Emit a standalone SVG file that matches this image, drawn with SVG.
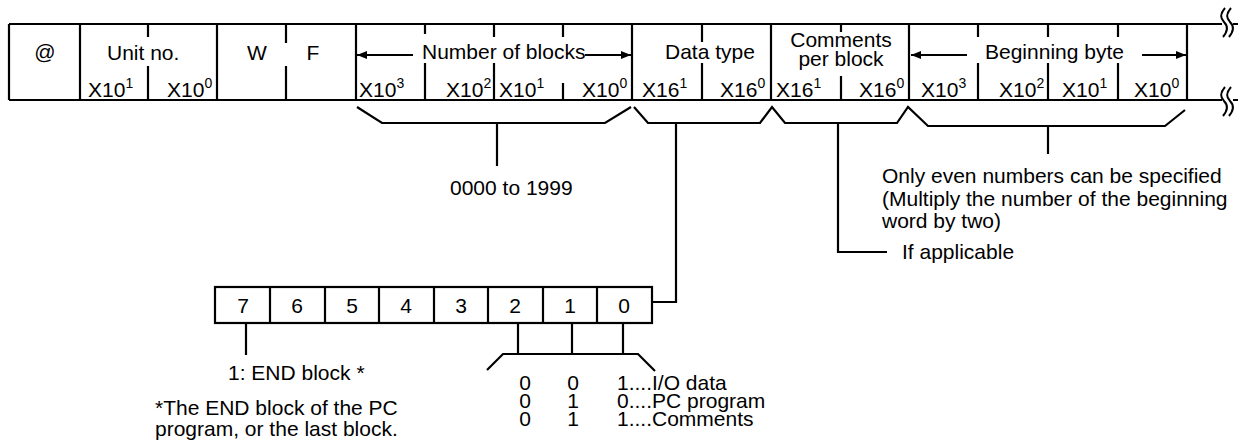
<svg xmlns="http://www.w3.org/2000/svg" width="1238" height="447" viewBox="0 0 1238 447">
<defs>
<style>
.ln{stroke:#000;stroke-width:2.2;fill:none}
.tn{stroke:#000;stroke-width:2;fill:none}
.tx{font-family:"Liberation Sans",Arial,sans-serif;font-size:21px;fill:#000}
.c{text-anchor:middle}
.sup{font-size:14px}
</style>
<marker id="ah" viewBox="0 0 10 8" refX="10" refY="4" markerWidth="10" markerHeight="8" markerUnits="userSpaceOnUse" orient="auto">
<path d="M0,0 L10,4 L0,8 Z" fill="#000"/>
</marker>
</defs>
<rect width="1238" height="447" fill="#fff"/>

<g id="frame-table">
<path class="ln" d="M9,24 H1222 M1233,24 H1238 M9,100 H1222 M1233,100 H1238"/>
<path class="ln" d="M9,24 V100 M80,24 V100 M217,24 V100 M356,24 V100 M632,24 V100 M771,24 V100 M909,24 V100 M1187,24 V100"/>
<path class="ln" d="M148,24 V37 M148,66 V100 M286,24 V43 M286,66 V100 M425,24 V34 M425,63 V100 M494,24 V37 M494,63 V100 M563,24 V37 M563,83 V100 M702,24 V42 M702,63 V100 M841,24 V32 M841,76 V100 M978,24 V37 M978,63 V100 M1048,24 V37 M1048,63 V100 M1118,24 V37 M1118,63 V100"/>
<path class="tn" d="M1225,8 C1220,14 1220,18 1224,22 C1228,26 1228,31 1223,37 M1231,8 C1226,14 1226,18 1230,22 C1234,26 1234,31 1229,37"/>
<path class="tn" d="M1225,87 C1220,93 1220,97 1224,101 C1228,105 1228,110 1223,116 M1231,87 C1226,93 1226,97 1230,101 C1234,105 1234,110 1229,116"/>
</g>

<g id="cell-at"><text class="tx c" x="45" y="59">@</text></g>
<g id="cell-unit-no">
<text class="tx" x="107" y="60">Unit no.</text>
<text class="tx" x="88" y="97">X10<tspan class="sup" dy="-9">1</tspan></text>
<text class="tx" x="167" y="97">X10<tspan class="sup" dy="-9">0</tspan></text>
</g>
<g id="cell-w"><text class="tx c" x="257" y="60">W</text></g>
<g id="cell-f"><text class="tx c" x="313" y="60">F</text></g>
<g id="cell-number-of-blocks">
<text class="tx" x="422" y="59">Number of blocks</text>
<line class="tn" x1="413" y1="55" x2="357" y2="55" marker-end="url(#ah)"/>
<line class="tn" x1="585" y1="55" x2="631" y2="55" marker-end="url(#ah)"/>
<text class="tx" x="359" y="97">X10<tspan class="sup" dy="-9">3</tspan></text>
<text class="tx" x="446" y="97">X10<tspan class="sup" dy="-9">2</tspan></text>
<text class="tx" x="499" y="97">X10<tspan class="sup" dy="-9">1</tspan></text>
<text class="tx" x="582" y="97">X10<tspan class="sup" dy="-9">0</tspan></text>
</g>
<g id="cell-data-type">
<text class="tx" x="665" y="59">Data type</text>
<text class="tx" x="642" y="97">X16<tspan class="sup" dy="-9">1</tspan></text>
<text class="tx" x="720" y="97">X16<tspan class="sup" dy="-9">0</tspan></text>
</g>
<g id="cell-comments">
<text class="tx c" x="841" y="47">Comments</text>
<text class="tx c" x="841" y="66">per block</text>
<text class="tx" x="776" y="97">X16<tspan class="sup" dy="-9">1</tspan></text>
<text class="tx" x="859" y="97">X16<tspan class="sup" dy="-9">0</tspan></text>
</g>
<g id="cell-beginning-byte">
<text class="tx" x="985" y="59">Beginning byte</text>
<line class="tn" x1="967" y1="55" x2="911" y2="55" marker-end="url(#ah)"/>
<line class="tn" x1="1142" y1="55" x2="1186" y2="55" marker-end="url(#ah)"/>
<text class="tx" x="921" y="97">X10<tspan class="sup" dy="-9">3</tspan></text>
<text class="tx" x="999" y="97">X10<tspan class="sup" dy="-9">2</tspan></text>
<text class="tx" x="1062" y="97">X10<tspan class="sup" dy="-9">1</tspan></text>
<text class="tx" x="1134" y="97">X10<tspan class="sup" dy="-9">0</tspan></text>
</g>

<g id="bit-register">
<rect class="ln" x="215" y="287" width="437" height="36"/>
<path class="ln" d="M270,287 V323 M325,287 V323 M379,287 V323 M434,287 V323 M488,287 V323 M543,287 V323 M597,287 V323"/>
<text class="tx c" x="243" y="313">7</text>
<text class="tx c" x="297" y="313">6</text>
<text class="tx c" x="352" y="313">5</text>
<text class="tx c" x="406" y="313">4</text>
<text class="tx c" x="461" y="313">3</text>
<text class="tx c" x="515" y="313">2</text>
<text class="tx c" x="570" y="313">1</text>
<text class="tx c" x="624" y="313">0</text>
</g>

<g id="connectors">
<polyline class="ln" points="357,107 382,123 605,123 631,107"/>
<line class="ln" x1="497" y1="123" x2="497" y2="166"/>
<polyline class="ln" points="634,107 648,123 760,123 772,107 785,123 897,123 908,107 928,126 1165,126 1185,110"/>
<polyline class="ln" points="676,123 676,302 652,302"/>
<polyline class="ln" points="838,123 838,252 887,252"/>
<line class="ln" x1="1048" y1="126" x2="1048" y2="154"/>
<line class="ln" x1="246" y1="323" x2="246" y2="355"/>
<path class="ln" d="M518,323 V354 M572,323 V354 M623,323 V354"/>
<polyline class="ln" points="487,370 503,354 638,354 655,371"/>
</g>

<g id="note-range"><text class="tx" x="450" y="195">0000 to 1999</text></g>
<g id="note-even">
<text class="tx" x="882" y="183">Only even numbers can be specified</text>
<text class="tx" x="882" y="206">(Multiply the number of the beginning</text>
<text class="tx" x="882" y="228">word by two)</text>
</g>
<g id="note-applicable"><text class="tx" x="902" y="259">If applicable</text></g>
<g id="note-end">
<text class="tx" x="228" y="380">1: END block *</text>
<text class="tx" x="155" y="415">*The END block of the PC</text>
<text class="tx" x="155" y="436">program, or the last block.</text>
</g>
<g id="note-codes">
<text class="tx c" x="525" y="390">0</text>
<text class="tx c" x="573" y="390">0</text>
<text class="tx" x="617" y="390">1....I/O data</text>
<text class="tx c" x="525" y="408">0</text>
<text class="tx c" x="573" y="408">1</text>
<text class="tx" x="617" y="408">0....PC program</text>
<text class="tx c" x="525" y="426">0</text>
<text class="tx c" x="573" y="426">1</text>
<text class="tx" x="617" y="426">1....Comments</text>
</g>
</svg>
